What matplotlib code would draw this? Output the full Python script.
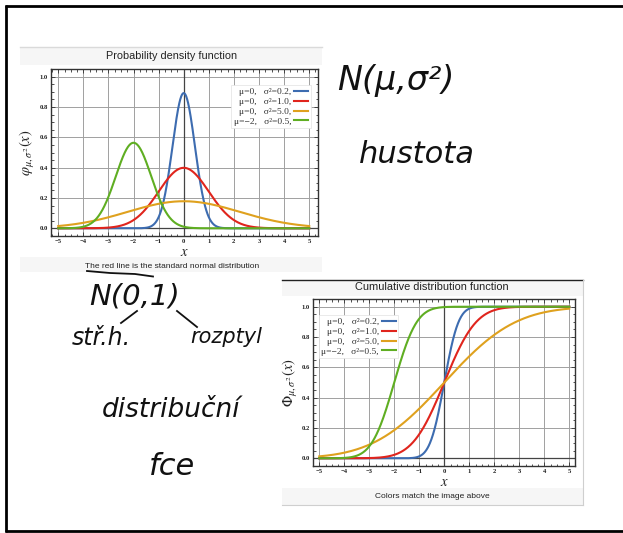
import math
import numpy as np
import matplotlib
matplotlib.use("Agg")
import matplotlib.pyplot as plt
from matplotlib.patches import Rectangle
from matplotlib.ticker import MultipleLocator

# ---- data ----
mus = [0, 0, 0, -2]
variances = [0.2, 1.0, 5.0, 0.5]
colors = ["#3d6cb0", "#e0251d", "#dfa11e", "#5fae22"]
x_ticks = [-5, -4, -3, -2, -1, 0, 1, 2, 3, 4, 5]
y_ticks = [0.0, 0.2, 0.4, 0.6, 0.8, 1.0]
pdf_title = "Probability density function"
pdf_caption = "The red line is the standard normal distribution"
cdf_title = "Cumulative distribution function"
cdf_caption = "Colors match the image above"

W, H = 623, 533
fig = plt.figure(figsize=(W / 100, H / 100), dpi=100)
fig.patch.set_facecolor("white")
plt.rcParams["mathtext.fontset"] = "stix"

bg = fig.add_axes([0, 0, 1, 1])
bg.set_xlim(0, W)
bg.set_ylim(H, 0)
bg.axis("off")


def panel(x0, x1, y_top, y_title_end, y_cap_start, y_bot, topcolor, rightline=False):
    strip = "#f6f6f6"
    bg.add_patch(Rectangle((x0, y_top), x1 - x0, y_title_end - y_top, facecolor=strip, edgecolor="none"))
    bg.add_patch(Rectangle((x0, y_cap_start), x1 - x0, y_bot - y_cap_start, facecolor=strip, edgecolor="none"))
    bg.plot([x0, x1], [y_top, y_top], color=topcolor, lw=1.0)
    if rightline:
        bg.plot([x1, x1], [y_top, y_bot], color="#cfcfcf", lw=0.8)
        bg.plot([x0, x1], [y_bot, y_bot], color="#cfcfcf", lw=0.8)


panel(20, 322, 46.5, 65, 257, 272, "#dadada")
panel(282, 583, 279.5, 296, 488, 505, "#222222", rightline=True)

bg.text(172, 56, pdf_title, ha="center", va="center", fontsize=7.8, family="Liberation Sans", color="#222")
bg.text(172, 266, pdf_caption, ha="center", va="center", fontsize=6.0, family="Liberation Sans", color="#222")
bg.text(432, 287.5, cdf_title, ha="center", va="center", fontsize=7.9, family="Liberation Sans", color="#222")
bg.text(432, 496, cdf_caption, ha="center", va="center", fontsize=6.0, family="Liberation Sans", color="#222")

# outer frame
bg.plot([5, W], [6, 6], color="black", lw=2.0, solid_capstyle="butt")
bg.plot([5, W], [530.5, 530.5], color="black", lw=2.0, solid_capstyle="butt")
bg.plot([5.5, 5.5], [5, 531.5], color="black", lw=2.0, solid_capstyle="butt")

# handwriting
hw = dict(family="DejaVu Sans", style="italic", color="#111111", ha="center", va="baseline")
bg.text(396, 90, "N(μ,σ²)", fontsize=24, **hw)
bg.text(417, 163, "hustota", fontsize=22, **hw)
bg.text(135, 305, "N(0,1)", fontsize=21, **hw)
bg.text(101, 345, "stř.h.", fontsize=17, **hw)
bg.text(226, 343, "rozptyl", fontsize=15, **hw)
bg.text(171, 417, "distribuční", fontsize=19, **hw)
bg.text(172, 475, "fce", fontsize=22, **hw)
bg.plot([87, 110, 135, 153], [271, 273, 274, 276.5], color="#111", lw=1.3)
bg.plot([137, 121], [311, 323], color="#111", lw=1.3)
bg.plot([177, 197], [311, 327], color="#111", lw=1.3)


def px_axes(left, right, top, bottom):
    return fig.add_axes([left / W, 1 - bottom / H, (right - left) / W, (bottom - top) / H])


def normal_pdf(x, mu, var):
    return np.exp(-(x - mu) ** 2 / (2 * var)) / np.sqrt(2 * np.pi * var)


erf_v = np.vectorize(math.erf)


def normal_cdf(x, mu, var):
    return 0.5 * (1 + erf_v((x - mu) / np.sqrt(2 * var)))


def style_axes(ax, xlim, ylim, ylabel):
    ax.set_xlim(*xlim)
    ax.set_ylim(*ylim)
    ax.set_facecolor("white")
    ax.set_xticks(x_ticks)
    ax.set_yticks(y_ticks)
    ax.set_xticklabels([f"{t:d}".replace("-", "−") for t in x_ticks])
    ax.set_yticklabels([f"{t:.1f}" for t in y_ticks])
    ax.xaxis.set_minor_locator(MultipleLocator(0.25))
    ax.yaxis.set_minor_locator(MultipleLocator(0.05))
    ax.tick_params(which="both", direction="in", top=True, right=True, colors="#333333",
                   labelsize=4.8, pad=2, width=0.6)
    ax.tick_params(which="major", length=3)
    ax.tick_params(which="minor", length=1.8)
    for lab in ax.get_xticklabels() + ax.get_yticklabels():
        lab.set_family("Liberation Serif")
        lab.set_fontweight("bold")
        lab.set_color("#222")
    ax.grid(True, which="major", color="#a0a0a0", lw=0.7)
    ax.axvline(0, color="#444", lw=0.9, zorder=1.5)
    ax.axhline(0, color="#444", lw=0.9, zorder=1.5)
    for s in ax.spines.values():
        s.set_color("#333")
        s.set_linewidth(1.0)
    ax.set_axisbelow(True)
    ax.set_xlabel(r"$x$", fontsize=10.5, labelpad=0.5, color="#222")
    ax.set_ylabel(ylabel, fontsize=10.5, labelpad=1.5, color="#222")


xs = np.linspace(-5, 5, 801)
leg_kw = dict(markerfirst=False, prop={"family": "Liberation Serif", "size": 6.8},
              labelspacing=0.12, handlelength=1.5, handletextpad=0.3, borderpad=0.25,
              frameon=True, fancybox=False, edgecolor="#e2e2e2", framealpha=1)


def make_label(mu, var):
    return f"μ={mu:d},   σ²={var:.1f},".replace("-", "−")


# PDF axes
ax1 = px_axes(50.7, 318, 69, 236)
for mu, var, c in zip(mus, variances, colors):
    ax1.plot(xs, normal_pdf(xs, mu, var), color=c, lw=1.5, label=make_label(mu, var), zorder=3)
style_axes(ax1, (-5.30, 5.35), (-0.051, 1.051), r"$\varphi_{\mu,\sigma^2}(x)$")
leg1 = ax1.legend(loc="upper right", bbox_to_anchor=(0.99, 0.93), **leg_kw)
leg1.get_frame().set_linewidth(0.5)
for t in leg1.get_texts():
    t.set_color("#333")

# CDF axes
ax2 = px_axes(313, 575, 299, 466)
for mu, var, c in zip(mus, variances, colors):
    ax2.plot(xs, normal_cdf(xs, mu, var), color=c, lw=1.5, label=make_label(mu, var), zorder=3)
style_axes(ax2, (-5.25, 5.23), (-0.051, 1.051), r"$\Phi_{\mu,\sigma^2}(x)$")
leg2 = ax2.legend(loc="upper left", bbox_to_anchor=(0.005, 0.93), **leg_kw)
leg2.get_frame().set_linewidth(0.5)
for t in leg2.get_texts():
    t.set_color("#333")

fig.savefig("out.png", dpi=100, facecolor="white")
